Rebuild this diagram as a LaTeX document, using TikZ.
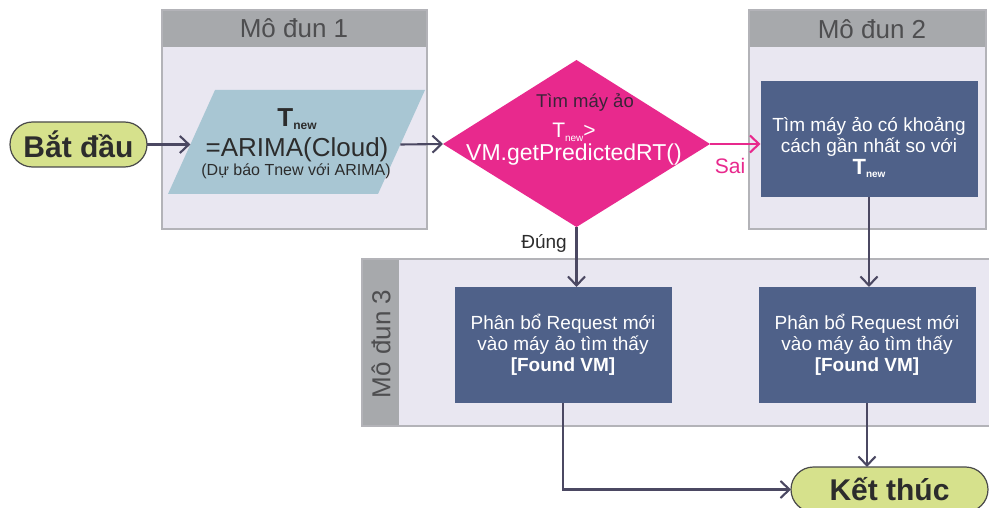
\documentclass[tikz,border=0pt]{standalone}
\usepackage{fontspec}
\setmainfont{Liberation Sans}
\usetikzlibrary{shapes.geometric,shapes.misc,arrows.meta,calc}
\definecolor{modbg}{HTML}{E9E7F1}
\definecolor{modline}{HTML}{B3B3B8}
\definecolor{hdr}{HTML}{A7A9AC}
\definecolor{hdrtxt}{HTML}{4E4E50}
\definecolor{parafill}{HTML}{A8C6D3}
\definecolor{magentac}{HTML}{E8298D}
\definecolor{slate}{HTML}{4F6189}
\definecolor{termfill}{HTML}{D6E18C}
\definecolor{termline}{HTML}{4A4A4A}
\definecolor{txtdark}{HTML}{2C2C2C}
\definecolor{diatxt}{HTML}{3A2438}
\definecolor{flowc}{HTML}{4B4862}
\tikzset{
  modbox/.style={draw=modline, line width=1.6pt, fill=modbg, inner sep=0, outer sep=0, anchor=north west},
  hdrbox/.style={fill=hdr, inner sep=0, outer sep=0, anchor=north west},
  hdrtext/.style={text=hdrtxt, font=\fontsize{26}{30}\selectfont, inner sep=0, anchor=base},
  darkbox/.style={fill=slate, text=white, inner sep=0, outer sep=0, minimum width=217, minimum height=116, align=center, font=\fontsize{19}{21}\selectfont},
  term/.style={rounded rectangle, draw=termline, line width=1.2pt, fill=termfill, inner sep=0, outer sep=0, minimum height=45, text=txtdark, font=\bfseries\fontsize{30}{34}\selectfont},
  flow/.style={draw=flowc, line width=2.1pt, -{Straight Barb[length=9pt, width=17pt]}},
  plain/.style={inner sep=0, anchor=base},
}
\begin{document}
\begin{tikzpicture}[x=1pt, y=-1pt]
\useasboundingbox (0,0) rectangle (989,508);
\clip (0,0) rectangle (989,508);
\fill[white] (0,0) rectangle (989,508);

% Module 1
\node[modbox, minimum width=265, minimum height=219] (mod1) at (162,10) {};
\node[hdrbox, minimum width=263.4, minimum height=36.2] (hdr1) at (162.8,10.8) {};
\node[hdrtext] (hdr1t) at (294,38) {Mô đun 1};

% Module 2
\node[modbox, minimum width=237, minimum height=219] (mod2) at (749,10) {};
\node[hdrbox, minimum width=235.4, minimum height=36.2] (hdr2) at (749.8,10.8) {};
\node[hdrtext] (hdr2t) at (872,39) {Mô đun 2};

% Module 3
\node[modbox, minimum width=660, minimum height=167] (mod3) at (362,259) {};
\node[hdrbox, minimum width=36.2, minimum height=165.4] (hdr3) at (362.8,259.8) {};
\node[text=hdrtxt, font=\fontsize{26}{30}\selectfont, inner sep=0, rotate=90] (hdr3t) at (381,344) {Mô đun 3};

% Start / end
\node[term, minimum width=137] (start) at (78.5,144.5) {Bắt đầu};
\node[term, minimum width=197] (end) at (889.5,489.5) {Kết thúc};

% Parallelogram
\fill[parafill] (168,194) -- (215,90) -- (425,90) -- (378,194) -- cycle;
\coordinate (paraW) at (190.4,144.5);
\coordinate (paraE) at (400.4,144.5);
\node[plain, text=txtdark, font=\bfseries\fontsize{26}{30}\selectfont] (paraT) at (297,127)
  {T\raisebox{-3pt}{\fontsize{12}{12}\selectfont new}};
\node[plain, text=txtdark, font=\fontsize{26}{30}\selectfont] (paraA) at (297,157) {=ARIMA(Cloud)};
\node[plain, text=txtdark, font=\fontsize{16}{18}\selectfont] (paraB) at (296,176) {(Dự báo Tnew với ARIMA)};

% Diamond
\fill[magentac] (443,144) -- (576.5,60) -- (710,144) -- (576.5,227) -- cycle;
\coordinate (diaW) at (443,144);
\coordinate (diaE) at (710,144);
\coordinate (diaS) at (576.5,227);
\node[plain, text=diatxt, font=\fontsize{18.5}{20}\selectfont] (diaA) at (585,108) {Tìm máy ảo};
\node[plain, text=white, font=\fontsize{21}{22}\selectfont] (diaB) at (574,138)
  {T\raisebox{-4pt}{\fontsize{10}{10}\selectfont new}>};
\node[plain, text=white, font=\fontsize{23}{26}\selectfont] (diaC) at (574,161) {VM.getPredictedRT()};

% Dark boxes
\node[darkbox, minimum height=116] (m2box) at (869,139) {};
\node[text=white, align=center, inner sep=0, font=\fontsize{19}{21}\selectfont] (m2txt) at (869,147)
  {Tìm máy ảo có khoảng\\cách gần nhất so với\\[1pt]{\bfseries\fontsize{22}{22}\selectfont T\raisebox{-3pt}{\fontsize{10}{10}\selectfont new}}};
\node[darkbox] (boxA) at (563,345) {Phân bổ Request mới\\vào máy ảo tìm thấy\\\textbf{[Found VM]}};
\node[darkbox] (boxB) at (867,345) {Phân bổ Request mới\\vào máy ảo tìm thấy\\\textbf{[Found VM]}};

% Labels
\node[text=txtdark, font=\fontsize{19}{21}\selectfont, inner sep=0] (dung) at (544,243) {Đúng};
\node[text=magentac, font=\fontsize{21}{23}\selectfont, inner sep=0] (sai) at (730,166) {Sai};

% Connectors
\draw[flow] (start.east) -- (paraW);
\draw[flow] (paraE) -- (diaW);
\draw[flow, draw=magentac] (diaE) -- (diaE -| m2box.west);
\draw[flow] (diaS) -- (diaS |- boxA.north);
\draw[flow] (m2box.south) -- (m2box.south |- boxB.north);
\draw[flow] (boxA.south) |- (end.west);
\draw[flow] (boxB.south) -- (boxB.south |- end.north);
\end{tikzpicture}
\end{document}
